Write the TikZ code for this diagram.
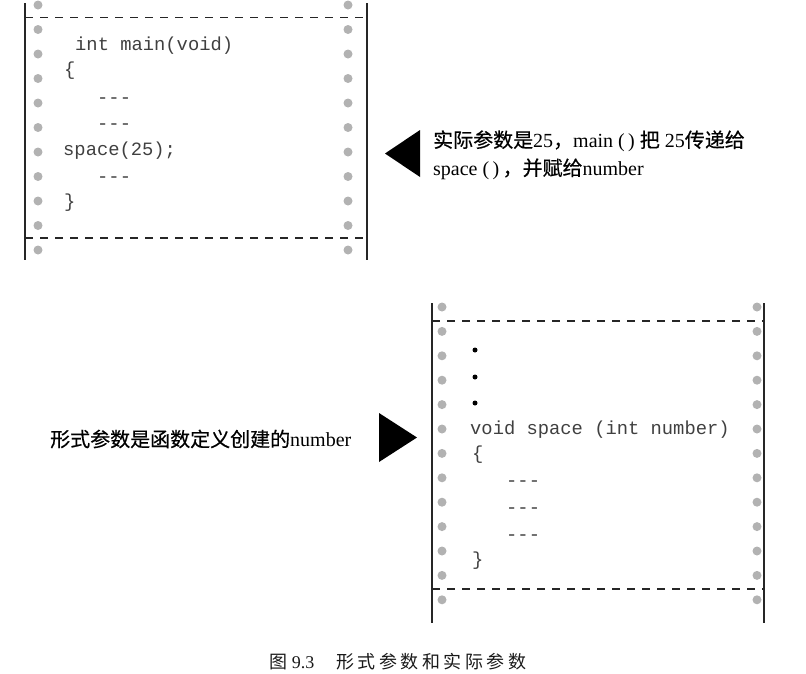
\documentclass[tikz,border=0pt]{standalone}
\usepackage{fontspec}
\setmainfont{Liberation Serif}
\setmonofont{Liberation Mono}
\newfontfamily\cjk{Noto Sans CJK SC}
\newfontfamily\cjkb[FakeBold=0.5]{Noto Sans CJK SC}
\begin{document}
\begin{tikzpicture}[x=1pt,y=-1pt,
  frameline/.style={line width=1.4pt,black!85},
  dashline/.style={line width=1.2pt,black!85,dash pattern=on 8pt off 7pt},
  hole/.style={circle,fill=black!30,inner sep=0pt,minimum size=9pt},
  codetxt/.style={anchor=west,inner sep=0pt,font=\ttfamily\fontsize{18.8}{20}\selectfont,text=black!75,text height=0.7em,text depth=0.2em},
  note/.style={anchor=west,inner sep=0pt,align=left,font=\fontsize{20}{28}\selectfont},
  pointer/.style={fill=black,draw=none},
  bullet/.style={circle,fill=black,inner sep=0pt,minimum size=5pt}]
\useasboundingbox (0,0) rectangle (806,673);
% ---------- top box ----------
\coordinate (tl1) at (25,3);   \coordinate (tl2) at (25,260);
\coordinate (tr1) at (367,3);  \coordinate (tr2) at (367,260);
\coordinate (td1) at (25,17.5); \coordinate (td2) at (367,17.5);
\coordinate (tb1) at (25,238); \coordinate (tb2) at (367,238);
\draw[frameline] (tl1) -- (tl2);
\draw[frameline] (tr1) -- (tr2);
\draw[dashline] (td1) -- (td2);
\draw[dashline] (tb1) -- (tb2);
\foreach \i in {0,...,10} {
  \node[hole] (tlh\i) at (38,5+24.5*\i) {};
  \node[hole] (trh\i) at (348,5+24.5*\i) {};
}
\node[codetxt] (c1) at (75,48) {int main(void)};
\node[codetxt] (c2) at (64,73) {\{};
\node[codetxt] (c3) at (97,101) {-{}-{}-};
\node[codetxt] (c4) at (97,127) {-{}-{}-};
\node[codetxt] (c5) at (63,153) {space(25);};
\node[codetxt] (c6) at (97,180) {-{}-{}-};
\node[codetxt] (c7) at (64,205) {\}};
% top pointer
\coordinate (p1a) at (385,153.5);
\coordinate (p1b) at (420,130);
\coordinate (p1c) at (420,177);
\fill[pointer] (p1a) -- (p1b) -- (p1c) -- cycle;
\node[note] (n1) at (433,155) {{\cjkb 实际参数是}25{\cjkb ，}main (\,) {\cjkb 把} 25{\cjkb 传递给}\\space (\,)\,{\cjkb ，并赋给}number};
% ---------- bottom box ----------
\coordinate (bl1) at (432,303); \coordinate (bl2) at (432,623);
\coordinate (br1) at (764,303); \coordinate (br2) at (764,623);
\coordinate (bd1) at (432,321); \coordinate (bd2) at (764,321);
\coordinate (bb1) at (432,589); \coordinate (bb2) at (764,589);
\draw[frameline] (bl1) -- (bl2);
\draw[frameline] (br1) -- (br2);
\draw[dashline] (bd1) -- (bd2);
\draw[dashline] (bb1) -- (bb2);
\foreach \i in {0,...,12} {
  \node[hole] (blh\i) at (442,307+24.4*\i) {};
  \node[hole] (brh\i) at (757,307+24.4*\i) {};
}
\node[bullet] (b1) at (475,350) {};
\node[bullet] (b2) at (475,377) {};
\node[bullet] (b3) at (475,403) {};
\node[codetxt] (d1) at (470,432) {void space (int number)};
\node[codetxt] (d2) at (472,457) {\{};
\node[codetxt] (d3) at (506,484) {-{}-{}-};
\node[codetxt] (d4) at (506,511) {-{}-{}-};
\node[codetxt] (d5) at (506,538) {-{}-{}-};
\node[codetxt] (d6) at (472,563) {\}};
% bottom pointer
\coordinate (p2a) at (417,437.5);
\coordinate (p2b) at (379,413);
\coordinate (p2c) at (379,462);
\fill[pointer] (p2a) -- (p2b) -- (p2c) -- cycle;
\node[note] (n2) at (50,439) {{\cjkb 形式参数是函数定义创建的}number};
% caption
\node[inner sep=0pt,font=\fontsize{18}{20}\selectfont,text=black!90] (cap) at (398,662) {{\cjk 图}\hspace{4pt}9.3\hspace{22pt}{\cjk 形\hspace{3.5pt}式\hspace{3.5pt}参\hspace{3.5pt}数\hspace{3.5pt}和\hspace{3.5pt}实\hspace{3.5pt}际\hspace{3.5pt}参\hspace{3.5pt}数}};
\end{tikzpicture}
\end{document}
